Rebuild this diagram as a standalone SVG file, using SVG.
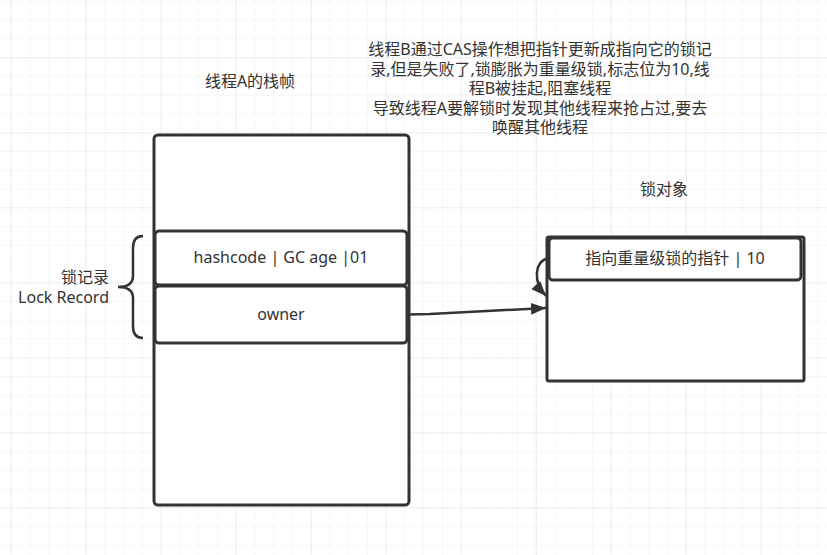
<svg xmlns="http://www.w3.org/2000/svg" width="827" height="555" viewBox="0 0 827 555">
<defs>
<pattern id="minor" x="10.7" y="1.05" width="18.75" height="18.75" patternUnits="userSpaceOnUse">
<path d="M0,0 H18.75 M0,0 V18.75" fill="none" stroke="#f0f0f0" stroke-width="1"/>
</pattern>
<pattern id="major" x="10.7" y="57.3" width="75" height="75" patternUnits="userSpaceOnUse">
<path d="M0,0 H75 M0,0 V75" fill="none" stroke="#e4e4e4" stroke-width="1"/>
</pattern>
<marker id="arr" markerUnits="userSpaceOnUse" markerWidth="16" markerHeight="12" refX="15" refY="6" orient="auto">
<path d="M0,0 L15,6 L0,12 Z" fill="#333"/>
</marker>
</defs>
<style>
.box{fill:#fff;stroke:#333;stroke-width:3}
.t{font-family:"Noto Sans","Noto Sans CJK SC",sans-serif;font-size:16px;fill:#333}
.c{text-anchor:middle}
.r{text-anchor:end}
.ln{fill:none;stroke:#333;stroke-width:2.5}
</style>
<rect width="827" height="555" fill="#fff"/>
<rect width="827" height="555" fill="url(#minor)"/>
<rect width="827" height="555" fill="url(#major)"/>

<g id="note">
<text class="t c" x="540" y="55">线程B通过CAS操作想把指针更新成指向它的锁记</text>
<text class="t c" x="540" y="75">录,但是失败了,锁膨胀为重量级锁,标志位为10,线</text>
<text class="t c" x="540" y="94">程B被挂起,阻塞线程</text>
<text class="t c" x="540" y="114">导致线程A要解锁时发现其他线程来抢占过,要去</text>
<text class="t c" x="540" y="133">唤醒其他线程</text>
</g>

<g id="stack-title"><text class="t c" x="250" y="87">线程A的栈帧</text></g>
<g id="lock-title"><text class="t c" x="664" y="195">锁对象</text></g>

<g id="stack-frame"><rect class="box" x="154" y="135" width="255" height="370" rx="4"/></g>
<g id="hashcode"><rect class="box" x="155" y="231" width="252" height="54" rx="4"/><text class="t c" x="281" y="263">hashcode | GC age |01</text></g>
<g id="owner"><rect class="box" x="155" y="286" width="252" height="57" rx="4"/><text class="t c" x="281" y="320">owner</text></g>

<g id="lock-object"><rect class="box" x="547" y="237" width="257" height="144" rx="2"/></g>
<g id="mark-word"><rect class="box" x="549" y="238" width="252" height="42" rx="4"/><text class="t c" x="675" y="264">指向重量级锁的指针 | 10</text></g>

<g id="lock-record-label">
<path class="ln" d="M143,236 Q133,236 133,248 L133,276 Q133,287 118,287 Q133,287 133,298 L133,326 Q133,338 143,338"/>
<text class="t r" x="109" y="283">锁记录</text>
<text class="t r" x="109" y="303">Lock Record</text>
</g>

<g id="connectors">
<path class="ln" d="M409,314.5 L430,314 L546,308" marker-end="url(#arr)"/>
<path class="ln" d="M548,258 C534,262 533,282 546,296" marker-end="url(#arr)"/>
</g>
</svg>
